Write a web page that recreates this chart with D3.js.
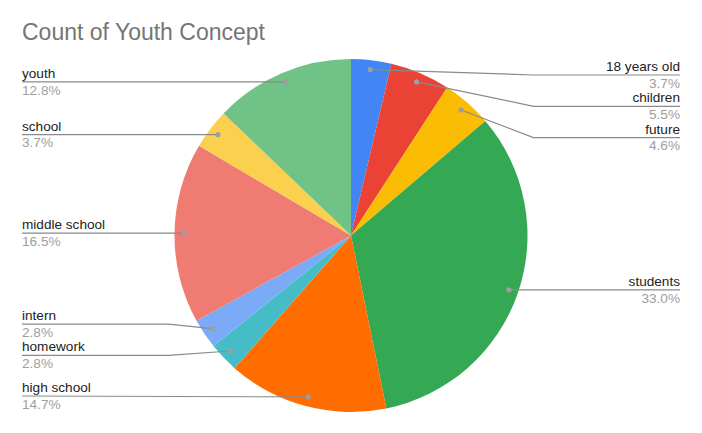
<!DOCTYPE html>
<html><head><meta charset="utf-8">
<script src="https://cdn.jsdelivr.net/npm/d3@7"></script>
<style>body{margin:0;background:#fff}svg{display:block}text{font-family:Arial,"Liberation Sans",sans-serif}</style>
</head><body><svg id="c" width="702" height="433"></svg>
<script>
const categories = ["18 years old","children","future","students","high school","homework","intern","middle school","school","youth"];
const counts = [4,6,5,36,16,3,3,18,4,14];
const colors = ["#4285f4","#ea4335","#fbbc04","#34a853","#ff6d01","#46bdc6","#7baaf7","#f07b72","#fcd04f","#71c287"];
const title = "Count of Youth Concept";

const W=702,H=433, cx=351, cy=235.5, R=176.5;
const svg=d3.select("#c");
svg.append("rect").attr("width",W).attr("height",H).attr("fill","#fff");
svg.append("text").attr("x",22).attr("y",40).attr("font-size",23).attr("fill","#757575").text(title);

const total=d3.sum(counts);
const data=categories.map((c,i)=>({name:c,value:counts[i],color:colors[i]}));
const pie=d3.pie().sort(null).value(d=>d.value);
const arcs=pie(data);
const arc=d3.arc().innerRadius(0).outerRadius(R);
const g=svg.append("g").attr("transform",`translate(${cx},${cy})`);
g.selectAll("path").data(arcs).join("path").attr("d",arc).attr("fill",d=>d.data.color);

const fmt=d3.format(".1%");
const dotR=167;
const items=arcs.map(a=>{
  const m=(a.startAngle+a.endAngle)/2;
  const dx=cx+Math.sin(m)*dotR, dy=cy-Math.cos(m)*dotR;
  return {a, name:a.data.name, pct:fmt(a.data.value/total), dx, dy, right: m<Math.PI, y:dy};
});
// label collision layout
const gap=31.3, minY=75, maxY=396;
function layout(list){
  list.sort((p,q)=>p.dy-q.dy);
  let clusters=list.map(it=>({items:[it]}));
  const place=c=>{let n=c.items.length;let mean=d3.mean(c.items,i=>i.dy);let top=mean-(n-1)*gap/2;
    top=Math.max(minY,Math.min(top,maxY-(n-1)*gap));c.top=top;};
  clusters.forEach(place);
  let changed=true;
  while(changed){changed=false;
    for(let i=0;i<clusters.length-1;i++){
      const a=clusters[i],b=clusters[i+1];
      if(a.top+(a.items.length-1)*gap+gap>b.top+0.01){
        const m={items:a.items.concat(b.items)};place(m);clusters.splice(i,2,m);changed=true;break;}
    }}
  clusters.forEach(c=>c.items.forEach((it,k)=>it.y=c.top+k*gap));
}
layout(items.filter(d=>d.right));
layout(items.filter(d=>!d.right));

const lab=svg.append("g");
items.forEach(it=>{
  const bendX = it.right? cx+R+6 : cx-R-6;
  const endX = it.right? 680 : 22;
  const pts = Math.abs(it.y-it.dy)<2 ? [[it.dx,it.dy],[endX,it.y]] : [[it.dx,it.dy],[bendX,it.y],[endX,it.y]];
  lab.append("path").attr("d",d3.line()(pts)).attr("fill","none").attr("stroke","#8a8a8a").attr("stroke-width",1.2);
  lab.append("circle").attr("cx",it.dx).attr("cy",it.dy).attr("r",2.6).attr("fill","#9e9e9e");
  const anchor=it.right?"end":"start";
  lab.append("text").attr("x",endX).attr("y",it.y-4).attr("text-anchor",anchor).attr("font-size",13.6).attr("fill","#222").text(it.name);
  lab.append("text").attr("x",endX).attr("y",it.y+12.8).attr("text-anchor",anchor).attr("font-size",13.6).attr("fill","#9e9e9e").text(it.pct);
});
</script></body></html>
